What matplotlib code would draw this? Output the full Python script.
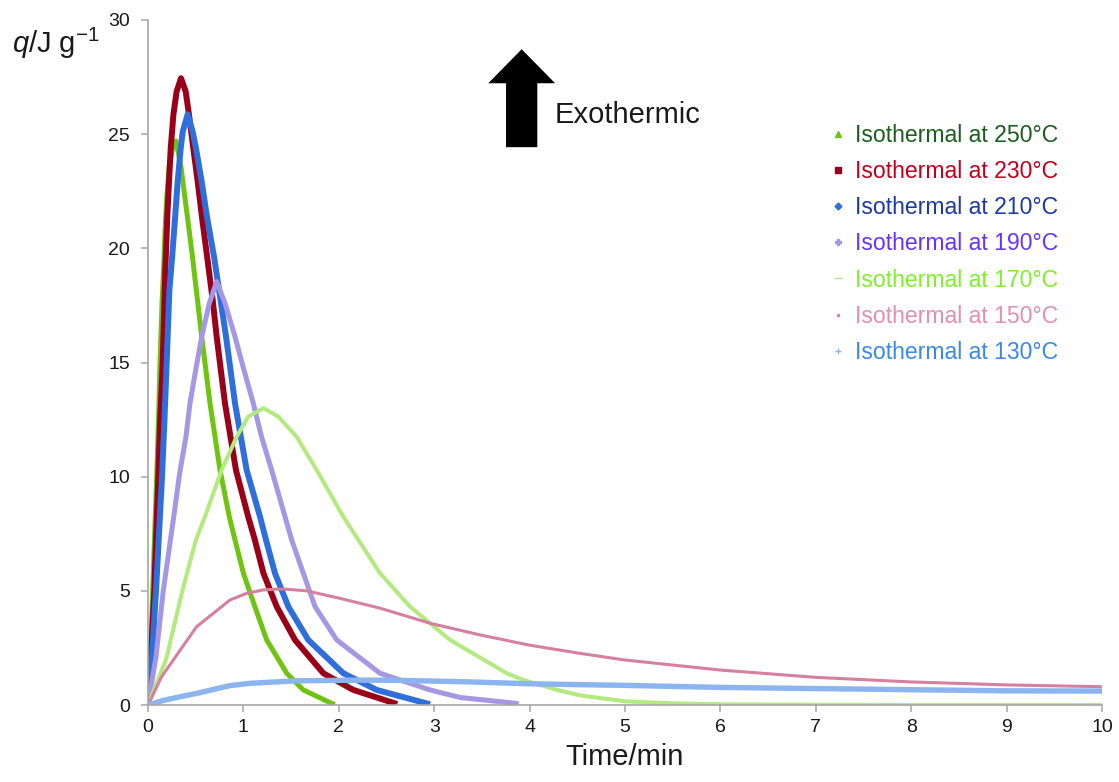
import matplotlib
matplotlib.use("Agg")
import matplotlib.pyplot as plt
from matplotlib.lines import Line2D
from matplotlib.patches import FancyArrow

plt.rcParams['font.family'] = ['Liberation Sans', 'DejaVu Sans']
plt.rcParams['mathtext.fontset'] = 'custom'
plt.rcParams['mathtext.rm'] = 'Liberation Sans'
plt.rcParams['mathtext.it'] = 'Liberation Sans:italic'

# ---- data (time in min, heat flow q in J/g) ----
t_250 = [0, 0.03, 0.049, 0.07, 0.091, 0.11, 0.126, 0.147, 0.168, 0.178, 0.196, 0.224,
         0.26, 0.293, 0.343, 0.388, 0.433, 0.468, 0.563, 0.65, 0.755, 0.852, 0.912,
         1.0, 1.12, 1.244, 1.454, 1.628, 1.925, 1.96]
q_250 = [0, 2.5, 5, 7.5, 10, 12.5, 15, 17.6, 19.56, 20.73, 22.19, 23.65,
         24.45, 24.7, 23.65, 22.19, 20.73, 19.56, 16.13, 13.21, 10.29, 8.25, 7.23,
         5.77, 4.31, 2.85, 1.39, 0.66, 0.07, 0.03]

t_230 = [0, 0.031, 0.066, 0.084, 0.108, 0.126, 0.154, 0.182, 0.203, 0.22, 0.238, 0.266,
         0.30, 0.346, 0.395, 0.43, 0.475, 0.521, 0.563, 0.622, 0.678, 0.72, 0.807,
         0.922, 1.05, 1.12, 1.21, 1.349, 1.541, 1.838, 2.152, 2.589, 2.61]
q_230 = [0, 2.12, 5, 7.23, 10, 12.33, 15, 19.1, 21.46, 22.92, 24.38, 25.84,
         26.87, 27.45, 26.87, 25.84, 24.38, 22.92, 21.46, 19.56, 17.74, 16.13, 13.21,
         10.29, 8.25, 7.23, 5.77, 4.31, 2.85, 1.39, 0.66, 0.07, 0.03]

t_210 = [0, 0.042, 0.084, 0.112, 0.147, 0.171, 0.196, 0.224, 0.252, 0.286, 0.311, 0.343,
         0.364, 0.416, 0.468, 0.503, 0.563, 0.615, 0.695, 0.818, 0.912, 1.034, 1.174,
         1.237, 1.331, 1.471, 1.68, 2.047, 2.397, 2.956]
q_210 = [0, 2.12, 5, 7.23, 10, 12.33, 15, 18.18, 19.56, 21.46, 22.92, 24.38,
         25.11, 25.87, 25.11, 24.38, 22.92, 21.46, 19.56, 16.13, 13.21, 10.29, 8.25,
         7.23, 5.77, 4.31, 2.85, 1.39, 0.66, 0.03]

t_190 = [0, 0.084, 0.16, 0.235, 0.27, 0.33, 0.398, 0.44, 0.5, 0.563, 0.643, 0.72,
         0.807, 0.912, 1.006, 1.104, 1.19, 1.296, 1.436, 1.506, 1.628, 1.751, 1.978,
         2.432, 2.956, 3.27, 3.865, 3.88]
q_190 = [0, 2.12, 5, 7.23, 8.25, 10.1, 11.75, 13.21, 14.67, 16.13, 17.6, 18.54,
         17.6, 16.13, 14.67, 13.21, 11.75, 10.29, 8.25, 7.23, 5.77, 4.31, 2.85,
         1.39, 0.66, 0.33, 0.07, 0.03]

t_170 = [0, 0.19, 0.36, 0.5, 0.597, 0.772, 0.93, 1.05, 1.21, 1.366, 1.558, 1.768,
         2.047, 2.205, 2.432, 2.746, 2.956, 3.166, 3.76, 3.93, 4.3, 4.53, 5.0, 5.5,
         6.0, 7.0, 8.0, 9.0, 10.0]
q_170 = [0, 2.0, 5, 7.2, 8.25, 10.29, 11.75, 12.63, 13.0, 12.63, 11.75, 10.29,
         8.25, 7.23, 5.77, 4.31, 3.58, 2.85, 1.39, 1.1, 0.65, 0.42, 0.16, 0.07,
         0.03, 0.01, 0.0, 0.0, 0.0]

t_150 = [0, 0.143, 0.265, 0.37, 0.51, 0.86, 1.034, 1.21, 1.418, 1.663, 2.013, 2.432,
         2.956, 3.48, 4.0, 4.53, 5.0, 6.0, 7.0, 8.0, 9.0, 10.0]
q_150 = [0, 1.24, 1.97, 2.6, 3.43, 4.6, 4.89, 5.04, 5.08, 5.0, 4.67, 4.24,
         3.58, 3.07, 2.62, 2.26, 1.97, 1.53, 1.21, 1.01, 0.88, 0.80]

t_130 = [0, 0.16, 0.335, 0.5, 0.86, 1.07, 1.384, 1.56, 2.257, 2.6, 3.3, 4.0, 4.53,
         5.0, 6.0, 7.0, 8.0, 9.0, 10.0]
q_130 = [0, 0.2, 0.36, 0.5, 0.85, 0.95, 1.02, 1.06, 1.09, 1.08, 1.02, 0.93, 0.89,
         0.86, 0.77, 0.72, 0.67, 0.62, 0.61]

labels = ['Isothermal at 250°C', 'Isothermal at 230°C', 'Isothermal at 210°C',
          'Isothermal at 190°C', 'Isothermal at 170°C', 'Isothermal at 150°C',
          'Isothermal at 130°C']
x_ticks = [0, 1, 2, 3, 4, 5, 6, 7, 8, 9, 10]
y_ticks = [0, 5, 10, 15, 20, 25, 30]

# ---- style ----
series = [(t_250, q_250), (t_230, q_230), (t_210, q_210), (t_190, q_190),
          (t_170, q_170), (t_150, q_150), (t_130, q_130)]
line_colors = ['#6fc412', '#9b0019', '#2e6fdc', '#a597e4', '#b2ea7e', '#d5809f', '#8cb5f0']
line_widths = [3.6, 4.3, 4.3, 3.6, 2.9, 2.2, 3.9]
text_colors = ['#1b5e1b', '#c3001c', '#1b38a8', '#6633ff', '#7ef02c', '#e38fae', '#3a87ee']
markers = ['^', 's', 'D', 'P', '_', '.', '+']
msizes = [4, 4, 3.5, 5, 6, 3, 5]

W, H = 1119, 782
fig = plt.figure(figsize=(W / 100, H / 100), dpi=100)
ax = fig.add_axes([148 / W, 1 - 705 / H, (1102 - 148) / W, (705 - 20) / H])

for (t, q), c, lw in zip(series, line_colors, line_widths):
    ax.plot(t, q, color=c, lw=lw, solid_capstyle='butt', solid_joinstyle='round')

ax.set_xlim(0, 10)
ax.set_ylim(0, 30)
ax.set_xticks(x_ticks)
ax.set_yticks(y_ticks)
for s in ['top', 'right']:
    ax.spines[s].set_visible(False)
for s in ['left', 'bottom']:
    ax.spines[s].set_color('#a6a6a6')
    ax.spines[s].set_linewidth(1.2)
ax.tick_params(axis='both', colors='#a6a6a6', labelcolor='#1a1a1a', labelsize=14,
               length=5, width=1.1, direction='out')
ax.tick_params(axis='y', pad=8)
ax.tick_params(axis='x', pad=5)
ax.set_xlabel('Time/min', fontsize=21, color='#1a1a1a', labelpad=5)

fig.text(12 / W, 1 - 53 / H, r'$q$/J g$^{\mathregular{-1}}$', fontsize=21,
         color='#1a1a1a', va='baseline', ha='left')

# Exothermic arrow
arrow = FancyArrow(3.917, 24.43, 0, 4.29 - 1.49, width=0.328, head_width=0.70,
                   head_length=1.49, length_includes_head=False,
                   color='black', lw=0)
ax.add_patch(arrow)
ax.text(4.26, 25.85, 'Exothermic', fontsize=21, color='#1a1a1a', va='center', ha='left')

# legend
handles = [Line2D([], [], ls='none', marker=m, ms=ms, color=c, mec=c)
           for m, ms, c in zip(markers, msizes, line_colors)]
fs = 16.6
hl = 0.75
leg = ax.legend(handles, labels, loc='upper left',
                bbox_to_anchor=((838 - hl * fs * 1.389 / 2) / W, 1 - 124 / H),
                bbox_transform=fig.transFigure,
                frameon=False, fontsize=fs, handlelength=hl, handletextpad=0.35,
                borderpad=0, borderaxespad=0, labelspacing=0.57,
                labelcolor=text_colors)

fig.savefig('out.png', dpi=100)
